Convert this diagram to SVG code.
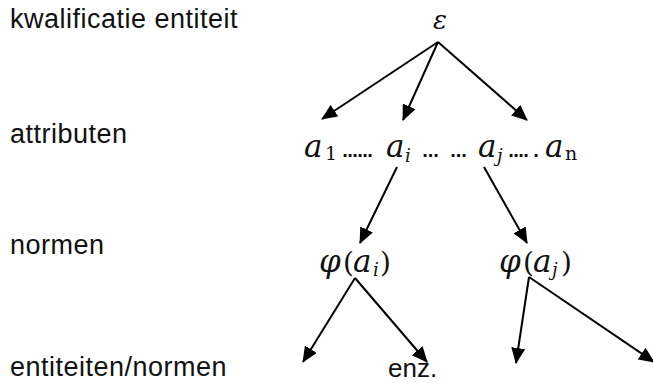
<svg xmlns="http://www.w3.org/2000/svg" width="653" height="383" viewBox="0 0 653 383">
<defs>
<style>
.lbl{font-family:"Liberation Sans",Arial,sans-serif;font-size:27px;letter-spacing:0.5px;fill:#111}
.m{font-family:"DejaVu Serif","Liberation Serif",serif;font-style:italic;font-size:31px;fill:#111}
.mu{font-family:"DejaVu Serif","Liberation Serif",serif;font-size:28px;fill:#111}
.sub{font-family:"DejaVu Serif","Liberation Serif",serif;font-style:italic;font-size:18px;fill:#111}
.subu{font-family:"DejaVu Serif","Liberation Serif",serif;font-size:19px;fill:#111}
.dots{font-family:"DejaVu Sans","Liberation Sans",sans-serif;font-size:16px;font-weight:bold;fill:#111}
.c line{stroke:#000;stroke-width:2;marker-end:url(#ah)}
</style>
<marker id="ah" markerUnits="userSpaceOnUse" markerWidth="16" markerHeight="14" refX="15" refY="7" orient="auto">
<path d="M0,0 L16,7 L0,14 z" fill="#000"/>
</marker>
</defs>
<g id="labels">
<text class="lbl" x="10" y="28">kwalificatie entiteit</text>
<text class="lbl" x="10" y="143">attributen</text>
<text class="lbl" x="10" y="254">normen</text>
<text class="lbl" x="10" y="376">entiteiten/normen</text>
</g>
<g id="n-epsilon"><text class="m" x="440" y="29" text-anchor="middle" style="font-size:26px">ε</text></g>
<g id="n-attributes">
<text class="m" x="304" y="157">a</text><text class="subu" x="325" y="160">1</text>
<text class="dots" x="342" y="157" textLength="31" lengthAdjust="spacing">......</text>
<text class="m" x="386" y="157">a</text><text class="sub" x="405" y="162">i</text>
<text class="dots" x="422" y="157" textLength="17" lengthAdjust="spacing">...</text>
<text class="dots" x="450" y="157" textLength="17" lengthAdjust="spacing">...</text>
<text class="m" x="478" y="157">a</text><text class="sub" x="497" y="162">j</text>
<text class="dots" x="508" y="157" textLength="21" lengthAdjust="spacing">....</text>
<text class="dots" x="533" y="157">.</text>
<text class="m" x="545" y="157">a</text><text class="subu" x="565" y="160">n</text>
</g>
<g id="n-phi-i">
<text class="m" x="319" y="272">φ</text><text class="mu" x="343" y="272">(</text><text class="m" x="353" y="272">a</text><text class="sub" x="373" y="276">i</text><text class="mu" x="380" y="272">)</text>
</g>
<g id="n-phi-j">
<text class="m" x="499" y="272">φ</text><text class="mu" x="523" y="272">(</text><text class="m" x="533" y="272">a</text><text class="sub" x="552" y="276">j</text><text class="mu" x="561" y="272">)</text>
</g>
<g id="n-enz"><text class="lbl" x="388" y="377" style="font-size:26px;letter-spacing:0">enz.</text></g>
<g class="c" id="connectors">
<line x1="438" y1="42" x2="322" y2="119"/>
<line x1="438" y1="42" x2="403" y2="120"/>
<line x1="438" y1="42" x2="527" y2="120"/>
<line x1="397" y1="167" x2="360" y2="243"/>
<line x1="484" y1="167" x2="527" y2="243"/>
<line x1="355" y1="278" x2="303" y2="362"/>
<line x1="355" y1="278" x2="427" y2="362"/>
<line x1="529" y1="277" x2="516" y2="363"/>
<line x1="529" y1="277" x2="654" y2="362"/>
</g>
</svg>
